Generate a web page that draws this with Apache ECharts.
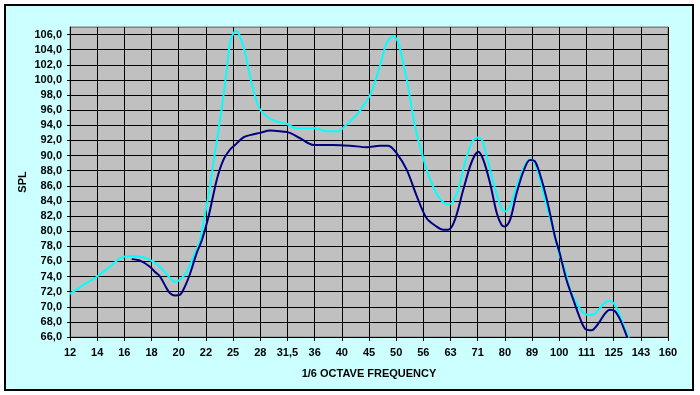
<!DOCTYPE html>
<html><head><meta charset="utf-8">
<script src="https://cdn.jsdelivr.net/npm/echarts@6/dist/echarts.min.js"></script>
<style>
html,body{margin:0;padding:0;background:#fff;}
#wrap{position:relative;width:700px;height:395px;background:#fff;}
#frame{position:absolute;left:4px;top:4px;width:686px;height:383px;border:2px solid #000;background:#CCFFFF;}
#c{position:absolute;left:0;top:0;width:700px;height:395px;}
</style></head>
<body><div id="wrap"><div id="frame"></div><div id="c"></div></div>
<script>
// x tick labels (1/6 octave frequency)
const freqLabels = ['12','14','16','18','20','22','25','28','31,5','36','40','45','50','56','63','71','80','89','100','111','125','143','160'];
// positions along the frequency axis (index of the label, fractional between labels)
const lightX = [0,0.5,1.0,1.5,1.84,2.2,2.58,2.94,3.31,3.68,3.86,4.05,4.29,4.54,4.78,4.97,5.15,5.33,5.52,5.64,5.77,5.91,6.11,6.25,6.44,6.62,6.81,6.99,7.3,7.6,7.97,8.34,8.83,9.04,9.44,9.87,10.12,10.55,11.04,11.4,11.65,11.9,12.08,12.39,12.69,13.0,13.25,13.55,13.86,14.04,14.28,14.53,14.78,14.99,15.15,15.33,15.58,15.82,16.0,16.19,16.43,16.68,16.92,17.11,17.29,17.54,17.78,18.03,18.21,18.4,18.64,18.83,19.07,19.32,19.56,19.81,19.99,20.17,20.36,20.54,20.7];
const lightY = [71.7,72.9,74.0,75.4,76.4,76.7,76.6,76.2,75.3,73.8,73.3,73.6,74.6,76.6,78.8,82.3,85.9,90.3,94.7,97.8,101.4,105.3,106.5,105.8,103.6,100.5,97.8,96.1,95.0,94.5,94.2,93.6,93.6,93.6,93.2,93.2,93.9,95.4,98.0,101.8,104.9,105.8,104.9,100.0,93.9,89.6,86.8,84.6,83.6,83.7,85.5,89.0,91.7,92.4,92.1,89.9,86.4,83.5,82.6,83.3,85.9,88.3,89.5,89.0,86.8,83.3,80.2,76.6,74.9,72.2,70.5,69.4,68.9,69.1,70.1,70.8,70.5,69.4,67.6,66.0,64.5];
const darkX = [2.27,2.58,2.94,3.13,3.31,3.56,3.68,3.86,4.05,4.23,4.42,4.66,4.85,5.09,5.4,5.64,5.89,6.07,6.38,6.62,6.99,7.36,7.72,8.09,8.46,8.95,9.69,10.3,10.92,11.4,11.71,12.02,12.39,12.76,13.12,13.49,13.73,13.92,14.16,14.47,14.72,14.9,15.02,15.21,15.45,15.7,15.88,16.0,16.19,16.43,16.68,16.92,17.11,17.35,17.6,17.84,18.0,18.27,18.52,18.76,18.95,19.19,19.44,19.68,19.87,20.05,20.24,20.42,20.6];
const darkY = [76.3,76.1,75.3,74.6,74.0,72.4,71.8,71.5,71.6,72.7,74.4,77.1,78.8,81.8,86.8,89.4,90.8,91.4,92.4,92.7,93.0,93.3,93.2,93.0,92.3,91.4,91.4,91.3,91.1,91.3,91.3,90.3,88.1,84.6,81.7,80.6,80.2,80.2,81.5,85.5,88.6,90.1,90.5,89.4,86.4,82.4,80.8,80.6,81.5,85.0,87.9,89.4,89.2,86.8,83.3,79.3,77.3,73.5,70.9,68.5,67.1,66.9,67.8,69.1,69.6,69.4,68.3,66.7,65.0];

const pair = (xs, ys) => xs.map((x, i) => [x, ys[i]]);
const font = {fontFamily: 'Liberation Sans, Arial, sans-serif', fontWeight: 'bold', fontSize: 11, color: '#000'};
const ySplitColors = [];
for (let v = 66; v <= 106; v += 2) ySplitColors.push('#000');
ySplitColors.push('#808080');

const chart = echarts.init(document.getElementById('c'), null, {renderer: 'canvas'});
chart.setOption({
  backgroundColor: 'transparent',
  animation: false,
  grid: {left: 70, top: 27, right: 32, bottom: 58, show: true, backgroundColor: '#C0C0C0', borderColor: '#808080', borderWidth: 1},
  xAxis: {
    type: 'value', min: 0, max: freqLabels.length - 1, interval: 1,
    name: '1/6 OCTAVE FREQUENCY', nameLocation: 'middle', nameGap: 31, nameMoveOverlap: false,
    nameTextStyle: Object.assign({}, font),
    axisLine: {lineStyle: {color: '#000', width: 1}},
    axisTick: {show: true, length: 4, lineStyle: {color: '#000'}},
    axisLabel: Object.assign({margin: 10, formatter: v => freqLabels[Math.round(v)] || ''}, font),
    splitLine: {show: true, lineStyle: {color: '#000', width: 1}}
  },
  yAxis: {
    type: 'value', min: 66, max: 107, interval: 2,
    name: 'SPL', nameLocation: 'middle', nameGap: 42, nameRotate: 90, nameMoveOverlap: false,
    nameTextStyle: Object.assign({}, font),
    axisLine: {show: true, lineStyle: {color: '#000', width: 1}},
    axisTick: {show: true, length: 3, lineStyle: {color: '#000'}},
    axisLabel: Object.assign({margin: 8, showMaxLabel: false, formatter: v => v > 106 ? '' : v.toFixed(1).replace('.', ',')}, font),
    splitLine: {show: true, lineStyle: {color: ySplitColors, width: 1}}
  },
  series: [
    {type: 'line', data: pair(lightX, lightY), smooth: 0.3, showSymbol: false, clip: true,
     lineStyle: {color: '#00FFFF', width: 2}, itemStyle: {color: '#00FFFF'}},
    {type: 'line', data: pair(darkX, darkY), smooth: 0.3, showSymbol: false, clip: true,
     lineStyle: {color: '#000080', width: 2}, itemStyle: {color: '#000080'}}
  ]
});
</script></body></html>
